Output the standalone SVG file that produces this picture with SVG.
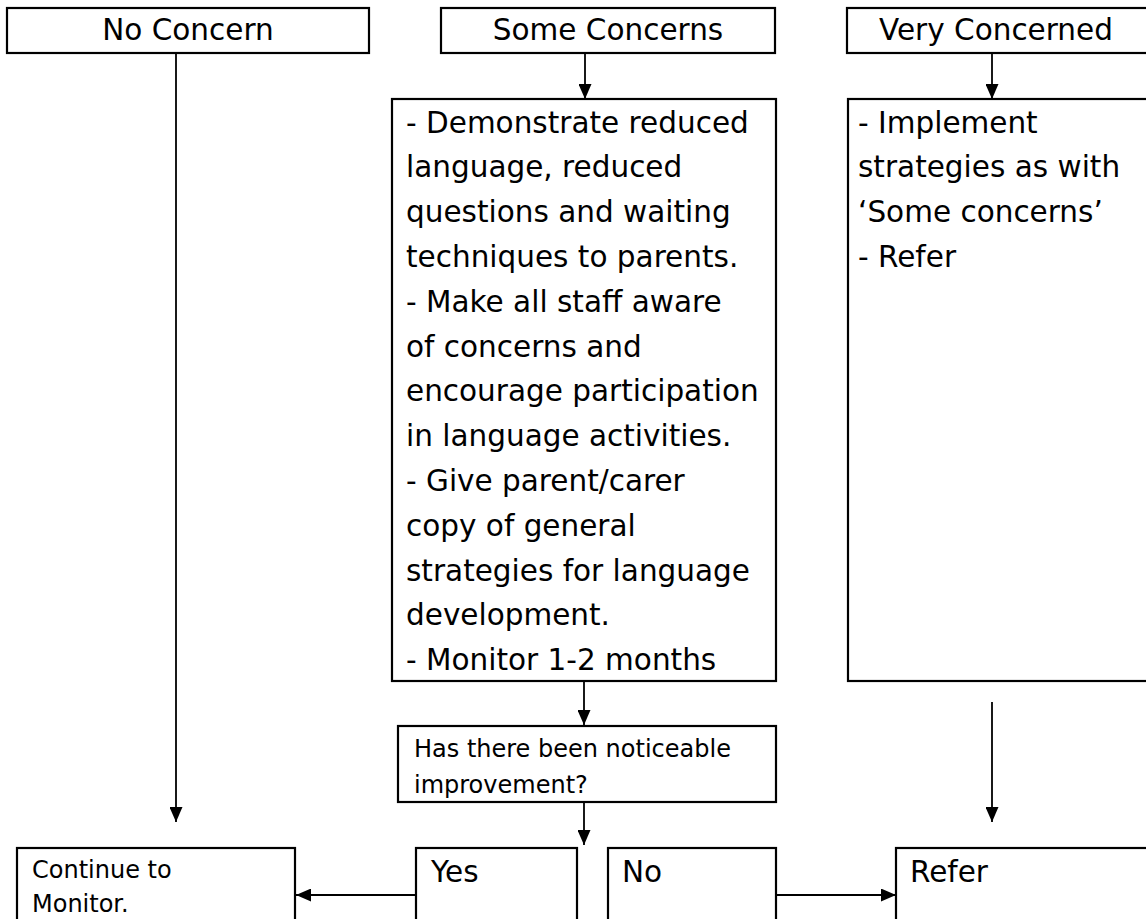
<svg xmlns="http://www.w3.org/2000/svg" width="1146" height="919" viewBox="0 0 1146 919">
<style>
.box{fill:#fff;stroke:#000;stroke-width:2.2}
.t{font-family:"DejaVu Sans","Liberation Sans",sans-serif;font-size:29.5px;fill:#000}
.s{font-family:"DejaVu Sans","Liberation Sans",sans-serif;font-size:24px;fill:#000}
.c{text-anchor:middle}
.ln{fill:none;stroke:#000;stroke-width:1.8}
</style>
<defs>
<marker id="ah" viewBox="0 0 15 13" refX="15" refY="6.5" markerWidth="15" markerHeight="13" markerUnits="userSpaceOnUse" orient="auto" preserveAspectRatio="none">
<path d="M0,0 L15,6.5 L0,13 z" fill="#000"/>
</marker>
</defs>
<rect width="1146" height="919" fill="#fff"/>
<g id="no-concern"><rect class="box" x="7" y="8" width="362" height="45"/><text class="t c" x="188" y="40">No Concern</text></g>
<g id="some-concerns"><rect class="box" x="441" y="8" width="334" height="45"/><text class="t c" x="608" y="40">Some Concerns</text></g>
<g id="very-concerned"><rect class="box" x="847" y="8" width="310" height="45"/><text class="t c" x="996" y="40">Very Concerned</text></g>
<g id="some-actions"><rect class="box" x="392" y="99" width="384" height="582"/>
<text class="t" x="406" y="132.5">- Demonstrate reduced</text>
<text class="t" x="406" y="177.3">language, reduced</text>
<text class="t" x="406" y="222.1">questions and waiting</text>
<text class="t" x="406" y="266.9">techniques to parents.</text>
<text class="t" x="406" y="311.7">- Make all staff aware</text>
<text class="t" x="406" y="356.5">of concerns and</text>
<text class="t" x="406" y="401.3">encourage participation</text>
<text class="t" x="406" y="446.1">in language activities.</text>
<text class="t" x="406" y="490.9">- Give parent/carer</text>
<text class="t" x="406" y="535.7">copy of general</text>
<text class="t" x="406" y="580.5">strategies for language</text>
<text class="t" x="406" y="625.3">development.</text>
<text class="t" x="406" y="670.1">- Monitor 1-2 months</text>
</g>
<g id="very-actions"><rect class="box" x="848" y="99" width="310" height="582"/>
<text class="t" x="858" y="132.5">- Implement</text>
<text class="t" x="858" y="177.3">strategies as with</text>
<text class="t" x="858" y="222.1">‘Some concerns’</text>
<text class="t" x="858" y="266.9">- Refer</text>
</g>
<g id="decision"><rect class="box" x="398" y="726" width="378" height="76"/>
<text class="s" x="414" y="757">Has there been noticeable</text>
<text class="s" x="414" y="793">improvement?</text>
</g>
<g id="continue"><rect class="box" x="17" y="848" width="278" height="90"/>
<text class="s" x="32" y="878">Continue to</text>
<text class="s" x="32" y="912">Monitor.</text>
</g>
<g id="yes"><rect class="box" x="416" y="848" width="161" height="90"/><text class="t" x="431" y="882">Yes</text></g>
<g id="no"><rect class="box" x="608" y="848" width="168" height="90"/><text class="t" x="622" y="882">No</text></g>
<g id="refer"><rect class="box" x="896" y="848" width="260" height="90"/><text class="t" x="910" y="882">Refer</text></g>
<g id="connectors">
<line class="ln" x1="176" y1="53" x2="176" y2="822" marker-end="url(#ah)"/>
<line class="ln" x1="585" y1="53" x2="585" y2="99" marker-end="url(#ah)"/>
<line class="ln" x1="992" y1="53" x2="992" y2="99" marker-end="url(#ah)"/>
<line class="ln" x1="584" y1="681" x2="584" y2="725" marker-end="url(#ah)"/>
<line class="ln" x1="992" y1="702" x2="992" y2="822" marker-end="url(#ah)"/>
<line class="ln" x1="584" y1="802" x2="584" y2="845" marker-end="url(#ah)"/>
<line class="ln" x1="416" y1="895" x2="296" y2="895" marker-end="url(#ah)"/>
<line class="ln" x1="776" y1="895" x2="896" y2="895" marker-end="url(#ah)"/>
</g>
</svg>
